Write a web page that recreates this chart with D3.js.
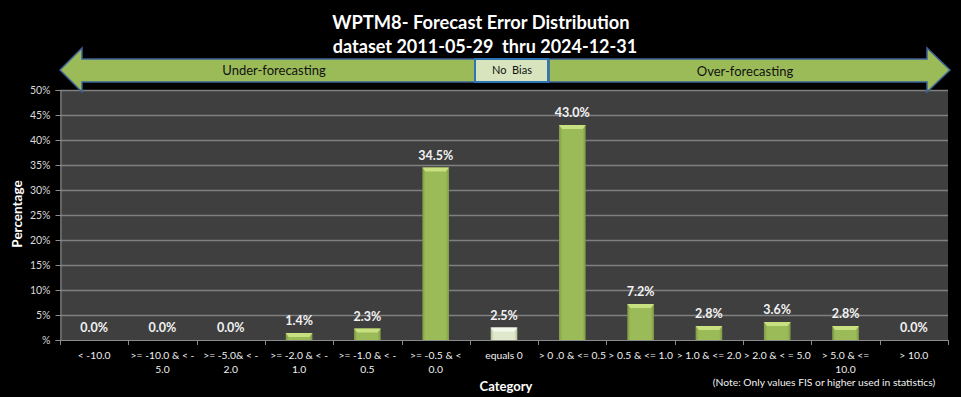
<!DOCTYPE html>
<html>
<head>
<meta charset="utf-8">
<script src="https://cdn.jsdelivr.net/npm/d3@7"></script>
<style>
  body { margin: 0; background: #000; }
  svg { display: block; font-family: Lato, "Open Sans", sans-serif; }
</style>
</head>
<body>
<div id="chart"></div>
<script>
// category labels (line breaks as in the picture)
var categories = [
    ["< -10.0"],
    [">= -10.0 & < -", "5.0"],
    [">= -5.0& < -", "2.0"],
    [">= -2.0 & < -", "1.0"],
    [">= -1.0 & < -", "0.5"],
    [">= -0.5 & <", "0.0"],
    ["equals 0"],
    ["> 0 .0 & <= 0.5"],
    ["> 0.5 & <= 1.0"],
    ["> 1.0 & <= 2.0"],
    ["> 2.0 & < = 5.0"],
    ["> 5.0 & <=", "10.0"],
    ["> 10.0"]
];
var values = [0.0, 0.0, 0.0, 1.4, 2.3, 34.5, 2.5, 43.0, 7.2, 2.8, 3.6, 2.8, 0.0];
var yTicks = [0, 5, 10, 15, 20, 25, 30, 35, 40, 45, 50];
var zeroIndex = 6; // "equals 0" bar is drawn pale

var width = 961, height = 397;
var margin = {top: 90, right: 13, bottom: 57, left: 60};
var plotW = width - margin.left - margin.right;
var plotH = height - margin.top - margin.bottom;

var svg = d3.select("#chart").append("svg")
    .attr("width", width)
    .attr("height", height);

svg.append("rect").attr("width", width).attr("height", height).attr("fill", "#000");

var defs = svg.append("defs");
function barGradient(id, edge, mid) {
    var g = defs.append("linearGradient").attr("id", id)
        .attr("x1", "0").attr("x2", "1").attr("y1", "0").attr("y2", "0");
    g.append("stop").attr("offset", "0%").attr("stop-color", edge);
    g.append("stop").attr("offset", "12%").attr("stop-color", mid);
    g.append("stop").attr("offset", "88%").attr("stop-color", mid);
    g.append("stop").attr("offset", "100%").attr("stop-color", edge);
}
barGradient("greenBar", "#7f9a45", "#9bbb59");
barGradient("paleBar", "#b3c196", "#dfe8cc");

// titles
svg.append("text")
    .attr("x", 481).attr("y", 29)
    .attr("text-anchor", "middle")
    .attr("fill", "#fff")
    .style("font-size", "18.3px").style("font-weight", "bold")
    .text("WPTM8- Forecast Error Distribution");
svg.append("text")
    .attr("x", 485).attr("y", 53)
    .attr("text-anchor", "middle")
    .attr("fill", "#fff")
    .style("font-size", "18px").style("font-weight", "bold")
    .attr("xml:space", "preserve")
    .text("dataset 2011-05-29  thru 2024-12-31");

var g = svg.append("g")
    .attr("transform", "translate(" + margin.left + "," + margin.top + ")");

var x = d3.scaleBand()
    .domain(d3.range(categories.length))
    .range([0, plotW])
    .paddingInner(0.61)
    .paddingOuter(0.305);

var y = d3.scaleLinear().domain([0, 50]).range([plotH, 0]);

// plot background
g.append("rect")
    .attr("width", plotW).attr("height", plotH)
    .attr("fill", "#3f3f3f");

// gridlines
g.selectAll(".grid")
    .data(yTicks.filter(function (d) { return d > 0; }))
    .enter().append("line")
    .attr("x1", 0).attr("x2", plotW)
    .attr("y1", function (d) { return y(d) + 0.5; })
    .attr("y2", function (d) { return y(d) + 0.5; })
    .attr("stroke", "#7f7f7f")
    .attr("stroke-width", 1.3);

// y axis
var yAxis = g.append("g")
    .attr("transform", "translate(0.5,0)")
    .call(d3.axisLeft(y).tickValues(yTicks).tickSize(5)
        .tickFormat(function (d) { return d === 0 ? "%" : d + "%"; }));
yAxis.select(".domain").attr("stroke", "#8c8c8c");
yAxis.selectAll(".tick line").attr("stroke", "#8c8c8c");
yAxis.selectAll(".tick text")
    .attr("fill", "#d9d9d9")
    .attr("x", -10)
    .style("font-size", "10.5px")
    .style("font-family", "Lato, sans-serif");

// x axis line + tick marks at band boundaries
var step = x.step();
g.append("line")
    .attr("x1", 0).attr("x2", plotW)
    .attr("y1", plotH + 0.5).attr("y2", plotH + 0.5)
    .attr("stroke", "#8c8c8c");
g.selectAll(".xtick")
    .data(d3.range(categories.length + 1))
    .enter().append("line")
    .attr("x1", function (i) { return Math.round(i * step) + 0.5; })
    .attr("x2", function (i) { return Math.round(i * step) + 0.5; })
    .attr("y1", plotH).attr("y2", plotH + 5)
    .attr("stroke", "#8c8c8c");

// bars
var bars = g.selectAll(".bar")
    .data(values)
    .enter().append("g");
bars.append("rect")
    .attr("x", function (d, i) { return x(i); })
    .attr("y", function (d) { return y(d); })
    .attr("width", x.bandwidth())
    .attr("height", function (d) { return plotH - y(d); })
    .attr("fill", function (d, i) { return i === zeroIndex ? "url(#paleBar)" : "url(#greenBar)"; });
// top bevel
bars.each(function (d, i) {
    if (d <= 0) return;
    var x0 = x(i), w = x.bandwidth(), t = y(d), b = Math.min(4, plotH - t);
    d3.select(this).append("path")
        .attr("d", "M" + x0 + "," + t + "L" + (x0 + w) + "," + t + "L" + (x0 + w - 3) + "," + (t + b) +
            "L" + (x0 + 3) + "," + (t + b) + "Z")
        .attr("fill", i === zeroIndex ? "#f4f8ea" : "#c8e07f");
});

// data labels
g.selectAll(".label")
    .data(values)
    .enter().append("text")
    .attr("x", function (d, i) { return x(i) + x.bandwidth() / 2; })
    .attr("y", function (d) { return y(d) - 8; })
    .attr("text-anchor", "middle")
    .attr("fill", "#f2f2f2")
    .style("font-size", "12.5px").style("font-weight", "bold")
    .text(function (d) { return d.toFixed(1) + "%"; });

// category labels
var catText = g.selectAll(".cat")
    .data(categories)
    .enter().append("text")
    .attr("x", function (d, i) { return x(i) + x.bandwidth() / 2; })
    .attr("y", plotH + 19)
    .attr("text-anchor", "middle")
    .attr("fill", "#f2f2f2")
    .style("font-size", "10.3px");
catText.selectAll("tspan")
    .data(function (d) { return d; })
    .enter().append("tspan")
    .attr("x", function () { return d3.select(this.parentNode).attr("x"); })
    .attr("dy", function (d, j) { return j === 0 ? 0 : 14; })
    .text(function (d) { return d; });

// axis titles
svg.append("text")
    .attr("x", margin.left + plotW / 2 + 2)
    .attr("y", 391)
    .attr("text-anchor", "middle")
    .attr("fill", "#fff")
    .style("font-size", "13px").style("font-weight", "bold")
    .text("Category");
svg.append("text")
    .attr("transform", "translate(22," + (margin.top + plotH / 2 - 1) + ") rotate(-90)")
    .attr("text-anchor", "middle")
    .attr("fill", "#fff")
    .style("font-size", "13.5px").style("font-weight", "bold")
    .text("Percentage");
svg.append("text")
    .attr("x", 824).attr("y", 386)
    .attr("text-anchor", "middle")
    .attr("fill", "#f2f2f2")
    .style("font-size", "10.3px")
    .text("(Note: Only values FIS or higher used in statistics)");

// bias arrows
var arrowFill = "#9bbb59", arrowStroke = "#3d6296";
svg.append("path")
    .attr("d", "M60,70 L82,48 L82,59 L475,59 L475,82 L82,82 L82,92 Z")
    .attr("fill", arrowFill).attr("stroke", arrowStroke).attr("stroke-width", 1.5);
svg.append("path")
    .attr("d", "M549,59 L927,59 L927,48 L950,70 L927,92 L927,82 L549,82 Z")
    .attr("fill", arrowFill).attr("stroke", arrowStroke).attr("stroke-width", 1.5);
svg.append("rect")
    .attr("x", 475).attr("y", 59).attr("width", 73).attr("height", 23)
    .attr("fill", "#d7e4bd").attr("stroke", "#2e75b6").attr("stroke-width", 2);

svg.append("text")
    .attr("x", 274).attr("y", 75)
    .attr("text-anchor", "middle").attr("fill", "#111")
    .style("font-size", "13px")
    .text("Under-forecasting");
svg.append("text")
    .attr("x", 745).attr("y", 76)
    .attr("text-anchor", "middle").attr("fill", "#111")
    .style("font-size", "13px")
    .text("Over-forecasting");
svg.append("text")
    .attr("x", 512).attr("y", 74)
    .attr("text-anchor", "middle").attr("fill", "#111")
    .attr("xml:space", "preserve")
    .style("font-size", "11px")
    .text("No  Bias");
</script>
</body>
</html>
